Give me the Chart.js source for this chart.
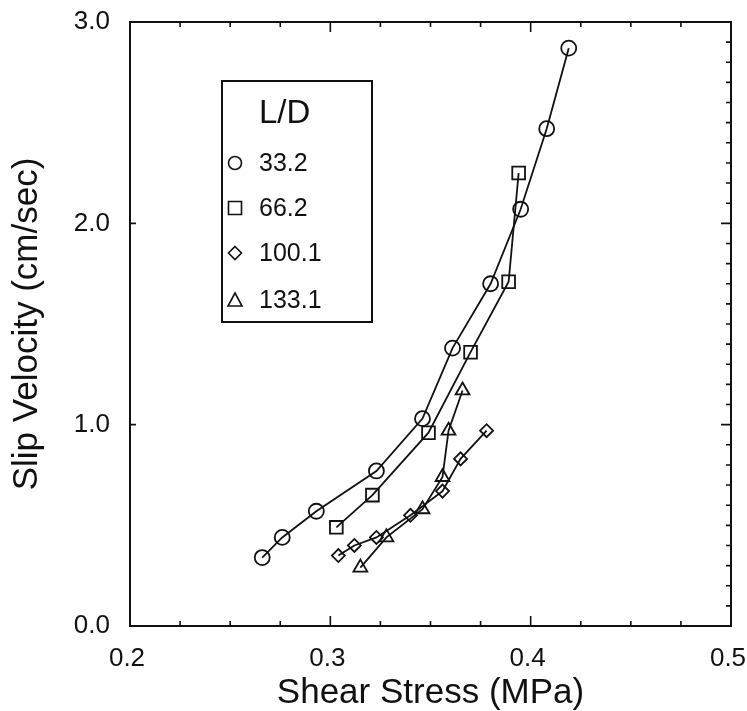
<!DOCTYPE html>
<html>
<head>
<meta charset="utf-8">
<script src="https://cdn.jsdelivr.net/npm/chart.js@4.4.1/dist/chart.umd.min.js"></script>
<style>
  html, body { margin: 0; padding: 0; background: #fff; }
  #wrap { width: 747px; height: 711px; }
</style>
</head>
<body>
<div id="wrap"><canvas id="slipChart" width="747" height="711"></canvas></div>
<script>
// 各 L/D 比的剪應力 (MPa) 與滑移速度 (cm/sec)
const ldLabels = ['33.2', '66.2', '100.1', '133.1'];
const ldStyles = ['circle', 'rect', 'rectRot', 'triangle'];

const stress332 = [0.266, 0.276, 0.293, 0.323, 0.346, 0.361, 0.380, 0.395, 0.408, 0.419];
const slip332   = [0.34, 0.44, 0.57, 0.77, 1.03, 1.38, 1.70, 2.07, 2.47, 2.87];

const stress662 = [0.303, 0.321, 0.349, 0.370, 0.389, 0.394];
const slip662   = [0.49, 0.65, 0.96, 1.36, 1.71, 2.25];

const stress1001 = [0.304, 0.312, 0.323, 0.340, 0.356, 0.365, 0.378];
const slip1001   = [0.35, 0.40, 0.44, 0.55, 0.67, 0.83, 0.97];

const stress1331 = [0.315, 0.328, 0.346, 0.356, 0.359, 0.366];
const slip1331   = [0.29, 0.44, 0.58, 0.74, 0.97, 1.17];

const xTicks = [0.2, 0.3, 0.4, 0.5];
const yTicks = [0.0, 1.0, 2.0, 3.0];
const xMinorStep = 0.025;
const yMinorStep = 0.1;

const fontFamily = "'Liberation Sans', Arial, Helvetica, sans-serif";
const ink = '#111';

function toPoints(xs, ys) {
    return xs.map((x, i) => ({ x: x, y: ys[i] }));
}

const seriesX = [stress332, stress662, stress1001, stress1331];
const seriesY = [slip332, slip662, slip1001, slip1331];
const pointRadii = [7.5, 9, 6.5, 8];

const datasets = ldLabels.map((label, i) => ({
    label: label,
    data: toPoints(seriesX[i], seriesY[i]),
    showLine: true,
    borderColor: ink,
    borderWidth: 1.8,
    backgroundColor: 'rgba(0,0,0,0)',
    pointStyle: ldStyles[i],
    pointRadius: pointRadii[i],
    pointBorderColor: ink,
    pointBorderWidth: 1.8,
    pointBackgroundColor: 'rgba(0,0,0,0)',
    tension: 0
}));

// 外框與向內刻度
const frameTicks = {
    id: 'frameTicks',
    afterDraw(chart) {
        const ctx = chart.ctx;
        const { left, right, top, bottom } = chart.chartArea;
        const xs = chart.scales.x;
        const ys = chart.scales.y;
        ctx.save();
        ctx.strokeStyle = ink;
        ctx.lineWidth = 2;
        ctx.strokeRect(left, top, right - left, bottom - top);

        ctx.lineWidth = 1.6;
        ctx.beginPath();
        const nx = Math.round((xs.max - xs.min) / xMinorStep);
        for (let i = 1; i < nx; i++) {
            const px = xs.getPixelForValue(xs.min + i * xMinorStep);
            const len = (i % 4 === 0) ? 10 : 5;
            ctx.moveTo(px, bottom);
            ctx.lineTo(px, bottom - len);
            ctx.moveTo(px, top);
            ctx.lineTo(px, top + len);
        }
        const ny = Math.round((ys.max - ys.min) / yMinorStep);
        for (let j = 1; j < ny; j++) {
            const py = ys.getPixelForValue(ys.min + j * yMinorStep);
            const major = (j % 10 === 0);
            ctx.moveTo(right, py);
            ctx.lineTo(right - (major ? 10 : 5), py);
            if (major) {
                ctx.moveTo(left, py);
                ctx.lineTo(left + 6, py);
            }
        }
        ctx.stroke();
        ctx.restore();
    }
};

// 圖內的 L/D 圖例方框
const ldLegend = {
    id: 'ldLegend',
    afterDraw(chart) {
        const ctx = chart.ctx;
        const { left, top } = chart.chartArea;
        const boxX = left + 92, boxY = top + 59, boxW = 150, boxH = 241;
        ctx.save();
        ctx.strokeStyle = ink;
        ctx.fillStyle = ink;
        ctx.lineWidth = 2;
        ctx.strokeRect(boxX, boxY, boxW, boxH);

        ctx.textAlign = 'left';
        ctx.textBaseline = 'alphabetic';
        ctx.font = '33px ' + fontFamily;
        ctx.fillText('L/D', boxX + 37, boxY + 42);

        ctx.font = '25px ' + fontFamily;
        ctx.textBaseline = 'middle';
        ctx.lineWidth = 1.6;
        const rowY = [82, 127, 172, 219];
        ldLabels.forEach((label, i) => {
            const mx = boxX + 13;
            const my = boxY + rowY[i];
            ctx.beginPath();
            if (ldStyles[i] === 'circle') {
                ctx.arc(mx, my, 6.5, 0, Math.PI * 2);
            } else if (ldStyles[i] === 'rect') {
                ctx.rect(mx - 6.5, my - 6.5, 13, 13);
            } else if (ldStyles[i] === 'rectRot') {
                ctx.moveTo(mx, my - 6.5);
                ctx.lineTo(mx + 6.5, my);
                ctx.lineTo(mx, my + 6.5);
                ctx.lineTo(mx - 6.5, my);
                ctx.closePath();
            } else {
                ctx.moveTo(mx, my - 7);
                ctx.lineTo(mx + 7, my + 6);
                ctx.lineTo(mx - 7, my + 6);
                ctx.closePath();
            }
            ctx.stroke();
            ctx.fillText(label, boxX + 37, my + 1);
        });
        ctx.restore();
    }
};

new Chart(document.getElementById('slipChart'), {
    type: 'scatter',
    data: { datasets: datasets },
    options: {
        responsive: false,
        animation: false,
        layout: { padding: { top: 22, right: 16, left: 0, bottom: 0 } },
        plugins: {
            legend: { display: false },
            tooltip: { enabled: false }
        },
        scales: {
            x: {
                type: 'linear',
                min: 0.2,
                max: 0.5,
                afterBuildTicks: (scale) => { scale.ticks = xTicks.map(v => ({ value: v })); },
                afterFit: (scale) => {
                    scale.height = 85;
                    scale.paddingLeft = 0;
                    scale.paddingRight = 0;
                },
                grid: { display: false, drawTicks: false },
                border: { display: false },
                ticks: {
                    padding: 17,
                    labelOffset: -3,
                    color: ink,
                    font: { family: fontFamily, size: 26 },
                    callback: (v) => Number(v).toFixed(1)
                },
                title: {
                    display: true,
                    text: 'Shear Stress (MPa)',
                    color: ink,
                    padding: 0,
                    font: { family: fontFamily, size: 35, lineHeight: 1 }
                }
            },
            y: {
                type: 'linear',
                min: 0,
                max: 3,
                afterBuildTicks: (scale) => { scale.ticks = yTicks.map(v => ({ value: v })); },
                afterFit: (scale) => {
                    scale.width = 130;
                    scale.paddingTop = 0;
                    scale.paddingBottom = 0;
                },
                grid: { display: false, drawTicks: false },
                border: { display: false },
                ticks: {
                    padding: 20,
                    color: ink,
                    font: { family: fontFamily, size: 26 },
                    callback: (v) => Number(v).toFixed(1)
                },
                title: {
                    display: true,
                    text: 'Slip Velocity (cm/sec)',
                    color: ink,
                    padding: { top: 10, bottom: 0 },
                    font: { family: fontFamily, size: 35, lineHeight: 1 }
                }
            }
        }
    },
    plugins: [frameTicks, ldLegend]
});
</script>
</body>
</html>
